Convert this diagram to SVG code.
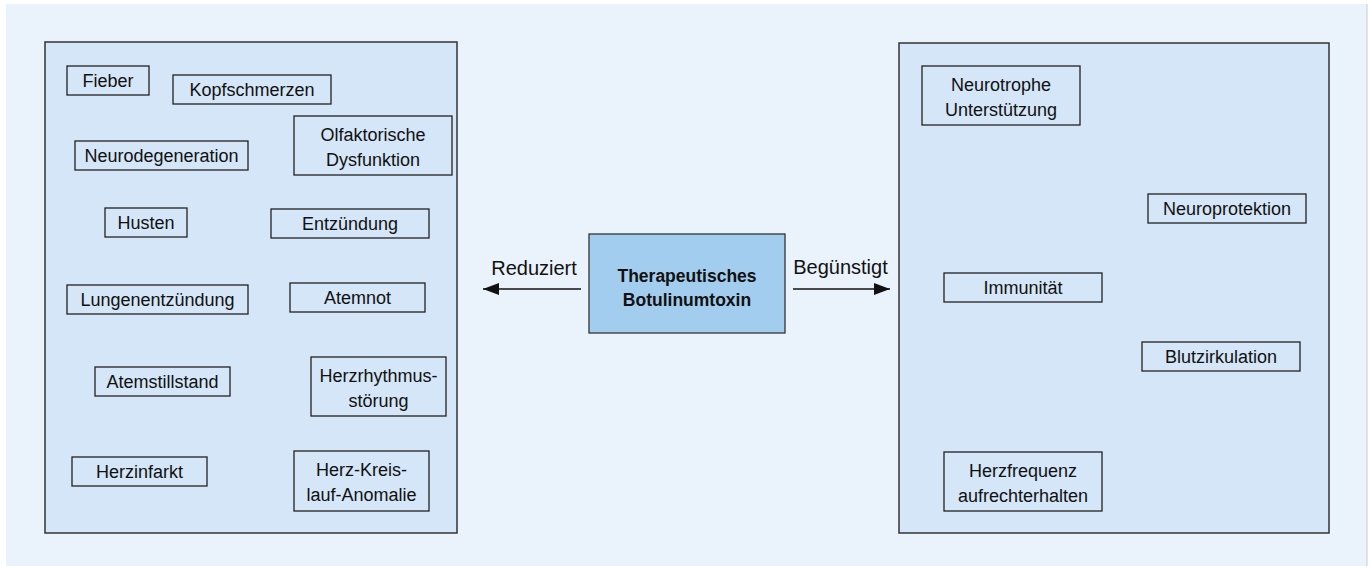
<svg xmlns="http://www.w3.org/2000/svg" width="1370" height="568" viewBox="0 0 1370 568">
<defs>
<style>
.bg{fill:#EAF2FB}
.panel{fill:#D4E6F7;stroke:#333;stroke-width:1.5}
.box{fill:#D4E6F7;stroke:#222;stroke-width:1.3}
.center{fill:#A3CDEE;stroke:#333;stroke-width:1.3}
text{font-family:"Liberation Sans",Arial,sans-serif;font-size:18px;fill:#111;text-anchor:middle}
.lbl{font-size:20px}
.ct{font-size:17.5px;font-weight:bold}
.conn{stroke:#111;stroke-width:1.5;fill:none}
</style>
<marker id="ah" viewBox="0 0 16 12" refX="16" refY="6" markerWidth="16" markerHeight="12" markerUnits="userSpaceOnUse" orient="auto">
<path d="M0,0 L16,6 L0,12 Z" fill="#111"/>
</marker>
</defs>
<rect class="bg" x="6" y="4" width="1361" height="562"/>
<line x1="1367" y1="4" x2="1367" y2="566" stroke="#c8cdd3" stroke-width="1"/>
<g id="left-panel"><rect class="panel" x="45" y="42" width="412" height="491"/></g>
<g id="right-panel"><rect class="panel" x="899" y="43" width="430" height="490"/></g>

<g id="fieber"><rect class="box" x="67" y="66" width="82" height="29"/><text x="108" y="87">Fieber</text></g>
<g id="kopfschmerzen"><rect class="box" x="173" y="75" width="158" height="29"/><text x="252" y="96">Kopfschmerzen</text></g>
<g id="olfaktorisch"><rect class="box" x="294" y="116" width="158" height="59"/><text x="373" y="141">Olfaktorische</text><text x="373" y="165.5">Dysfunktion</text></g>
<g id="neurodegeneration"><rect class="box" x="75" y="141" width="173" height="29"/><text x="161.5" y="162">Neurodegeneration</text></g>
<g id="husten"><rect class="box" x="105" y="208" width="82" height="29"/><text x="146" y="229">Husten</text></g>
<g id="entzuendung"><rect class="box" x="271" y="209" width="158" height="29"/><text x="350" y="230">Entzündung</text></g>
<g id="lungenentzuendung"><rect class="box" x="67" y="285" width="181" height="29"/><text x="157.5" y="306">Lungenentzündung</text></g>
<g id="atemnot"><rect class="box" x="290" y="283" width="135" height="29"/><text x="357.5" y="304">Atemnot</text></g>
<g id="atemstillstand"><rect class="box" x="95" y="367" width="135" height="29"/><text x="162.5" y="388">Atemstillstand</text></g>
<g id="herzrhythmus"><rect class="box" x="311" y="357" width="135" height="59"/><text x="378.5" y="382">Herzrhythmus-</text><text x="378.5" y="406.5">störung</text></g>
<g id="herzinfarkt"><rect class="box" x="72" y="457" width="135" height="29"/><text x="139.5" y="478">Herzinfarkt</text></g>
<g id="herzkreislauf"><rect class="box" x="294" y="451" width="135" height="60"/><text x="361.5" y="476">Herz-Kreis-</text><text x="361.5" y="500.5">lauf-Anomalie</text></g>

<g id="neurotrophe"><rect class="box" x="922" y="66" width="158" height="59"/><text x="1001" y="91">Neurotrophe</text><text x="1001" y="115.5">Unterstützung</text></g>
<g id="neuroprotektion"><rect class="box" x="1148" y="194" width="158" height="29"/><text x="1227" y="215">Neuroprotektion</text></g>
<g id="immunitaet"><rect class="box" x="944" y="273" width="158" height="29"/><text x="1023" y="294">Immunität</text></g>
<g id="blutzirkulation"><rect class="box" x="1142" y="342" width="158" height="29"/><text x="1221" y="363">Blutzirkulation</text></g>
<g id="herzfrequenz"><rect class="box" x="944" y="452" width="158" height="59"/><text x="1023" y="477">Herzfrequenz</text><text x="1023" y="501.5">aufrechterhalten</text></g>

<g id="botulinumtoxin"><rect class="center" x="589" y="234" width="196" height="99"/><text class="ct" x="687" y="282">Therapeutisches</text><text class="ct" x="687" y="306">Botulinumtoxin</text></g>

<g id="connectors">
<line class="conn" x1="581" y1="289" x2="483" y2="289" marker-end="url(#ah)"/>
<text class="lbl" x="534" y="275">Reduziert</text>
<line class="conn" x1="793" y1="289" x2="890" y2="289" marker-end="url(#ah)"/>
<text class="lbl" x="840.5" y="274">Begünstigt</text>
</g>
</svg>
